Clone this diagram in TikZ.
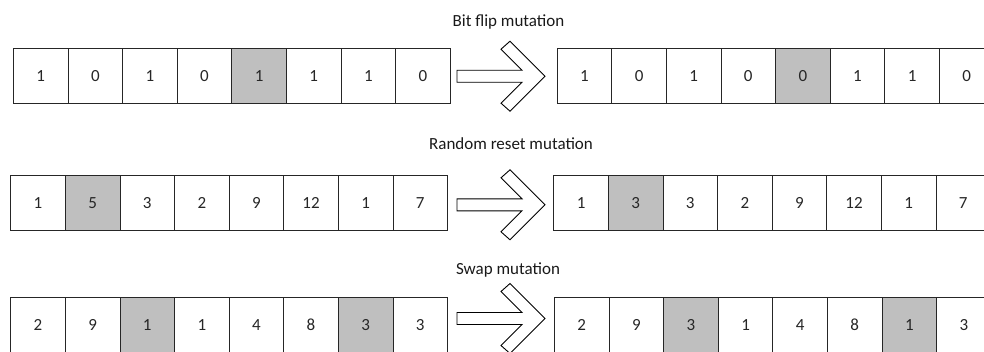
\documentclass[tikz,border=0pt]{standalone}
\usepackage{fontspec}
\setmainfont{Carlito}
\begin{document}
\begin{tikzpicture}[x=1pt,y=-1pt,
  cell/.style={draw=black!85, line width=0.9pt, minimum width=54.6pt, minimum height=55pt,
    inner sep=0pt, anchor=north west, font=\fontsize{17}{20}\selectfont, text=black!85},
  hl/.style={fill=gray!50},
  pl/.style={fill=white},
  title/.style={font=\fontsize{17}{20}\selectfont, anchor=base, inner sep=0pt, text=black!90},
  bigarrow/.style={draw=black, line width=0.9pt, fill=white, line join=miter},
  mutarrow/.pic={\draw[bigarrow] (457,-6) -- (522,-6) -- (501,-27) -- (510,-35) -- (545,0)
     -- (510,35) -- (501,27) -- (522,6) -- (457,6) -- cycle;}]
\useasboundingbox (0,0) rectangle (984,351);
\clip (0,0) rectangle (984,351);

% Titles
\node[title] (t1) at (508.5,26) {Bit flip mutation};
\node[title] (t2) at (511,149.5) {Random reset mutation};
\node[title] (t3) at (508,274.3) {Swap mutation};

% Row 1
\foreach \v/\s [count=\i from 0] in {1/pl,0/pl,1/pl,0/pl,1/hl,1/pl,1/pl,0/pl}
  \node[cell,\s] (ra\i) at (13+\i*54.6, 48.3) {\v};
\foreach \v/\s [count=\i from 0] in {1/pl,0/pl,1/pl,0/pl,0/hl,1/pl,1/pl,0/pl}
  \node[cell,\s] (rb\i) at (556.7+\i*54.6, 48.3) {\v};
\pic (m1) at (0,76.2) {mutarrow};

% Row 2
\foreach \v/\s [count=\i from 0] in {1/pl,5/hl,3/pl,2/pl,9/pl,12/pl,1/pl,7/pl}
  \node[cell,\s] (sa\i) at (10.3+\i*54.6, 175.3) {\v};
\foreach \v/\s [count=\i from 0] in {1/pl,3/hl,3/pl,2/pl,9/pl,12/pl,1/pl,7/pl}
  \node[cell,\s] (sb\i) at (553.3+\i*54.6, 175.3) {\v};
\pic (m2) at (0,204.8) {mutarrow};

% Row 3
\foreach \v/\s [count=\i from 0] in {2/pl,9/pl,1/hl,1/pl,4/pl,8/pl,3/hl,3/pl}
  \node[cell,\s] (wa\i) at (10.3+\i*54.6, 296.7) {\v};
\foreach \v/\s [count=\i from 0] in {2/pl,9/pl,3/hl,1/pl,4/pl,8/pl,1/hl,3/pl}
  \node[cell,\s] (wb\i) at (554+\i*54.6, 296.7) {\v};
\pic (m3) at (0,318.5) {mutarrow};
\end{tikzpicture}
\end{document}
